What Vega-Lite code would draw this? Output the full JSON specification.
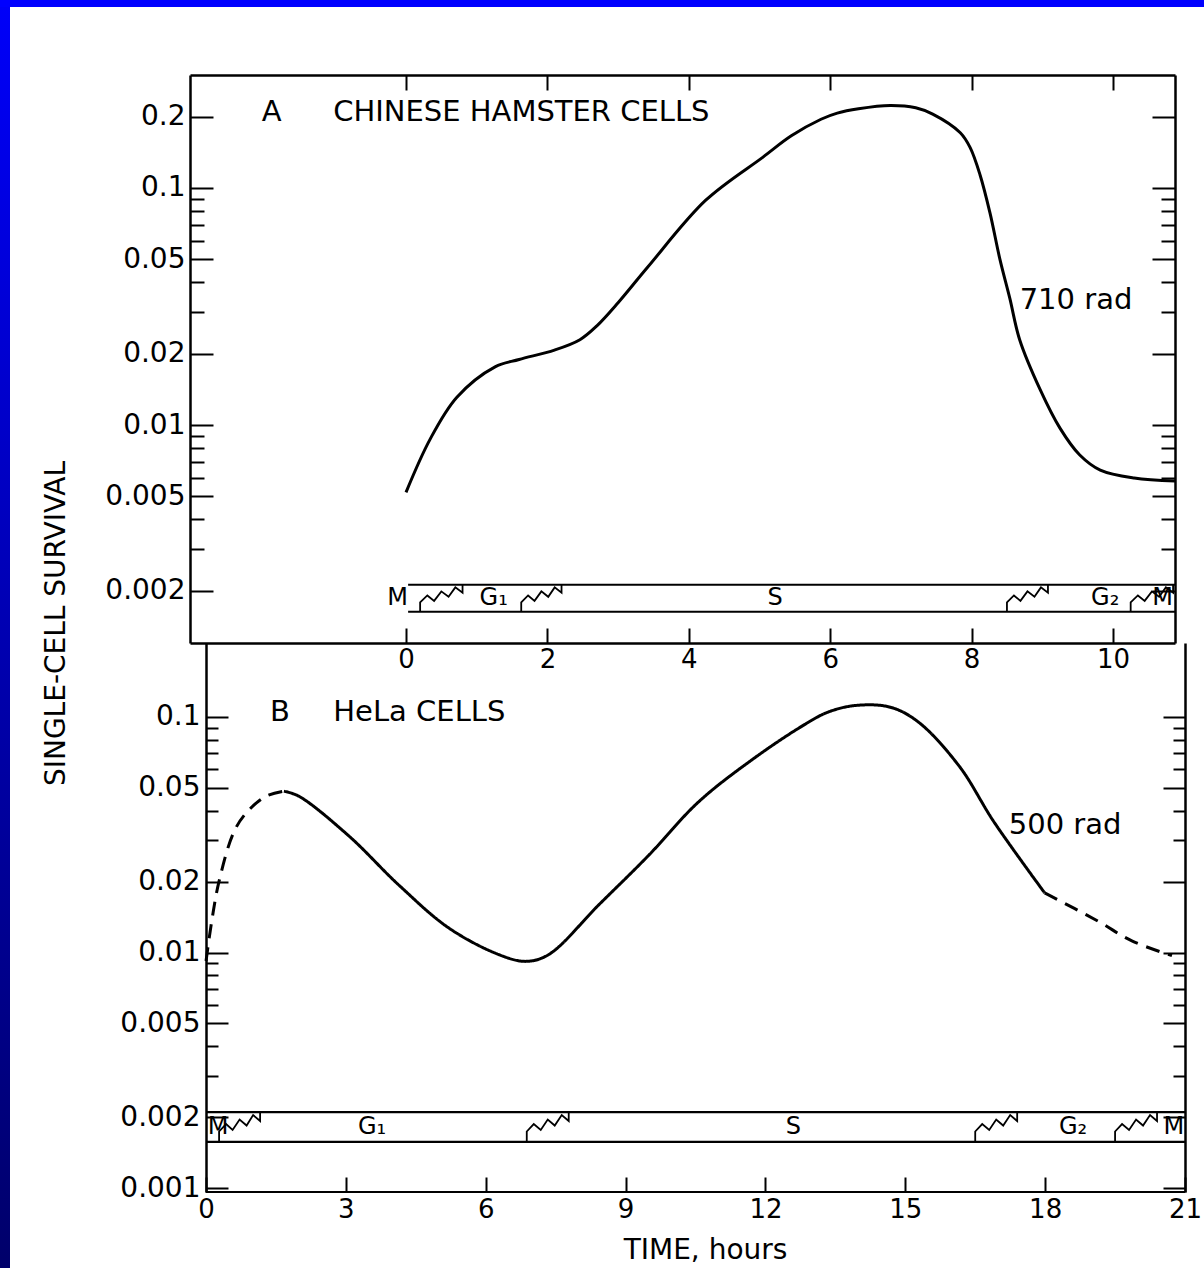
{
  "$schema": "https://vega.github.io/schema/vega-lite/v6.json",
  "background": "white",
  "padding": 0,
  "spacing": 0,
  "config": {
    "view": {"stroke": null},
    "axis": {
      "grid": false, "domainColor": "black", "domainWidth": 2.5, "tickColor": "black", "tickWidth": 2,
      "labelColor": "black", "labelFont": "DejaVu Sans", "labelFontSize": 26,
      "titleColor": "black", "titleFont": "DejaVu Sans", "titleFontWeight": "normal",
      "labelOverlap": false, "labelFlush": false
    }
  },
  "vconcat": [
    {"width": 1204, "height": 7, "data": {"values": []}, "mark": "point", "view": {"fill": "#0000ff", "stroke": null}},
    {
      "spacing": 32,
      "hconcat": [
        {"width": 10, "height": 1261, "data": {"values": []}, "mark": "point",
         "view": {"stroke": null, "fill": {"gradient": "linear", "x1": 0, "y1": 0, "x2": 0, "y2": 1, "stops": [{"offset": 0, "color": "#0000f8"}, {"offset": 1, "color": "#00006a"}]}}},
        {
          "spacing": 0,
          "bounds": "flush",
          "vconcat": [
            {"width": 1, "height": 68, "data": {"values": []}, "mark": "point"},
            {
              "width": 985, "height": 568,
              "resolve": {"axis": {"x": "independent", "y": "independent"}},
              "layer": [
                {
                  "data": {"values": [
                    {"t":0,"v":0.0052},{"t":0.34,"v":0.0087},{"t":0.72,"v":0.0131},{"t":1.26,"v":0.0176},{"t":1.6,"v":0.0189},{"t":2.1,"v":0.0207},{"t":2.46,"v":0.0229},{"t":2.7,"v":0.0262},{"t":3.0,"v":0.0328},{"t":3.42,"v":0.0464},{"t":4.24,"v":0.0888},{"t":5.05,"v":0.135},{"t":5.45,"v":0.166},{"t":5.87,"v":0.195},{"t":6.1,"v":0.207},{"t":6.4,"v":0.216},{"t":6.85,"v":0.223},{"t":7.21,"v":0.218},{"t":7.45,"v":0.205},{"t":7.84,"v":0.171},{"t":7.98,"v":0.148},{"t":8.12,"v":0.1135},{"t":8.26,"v":0.0785},{"t":8.4,"v":0.0501},{"t":8.54,"v":0.0343},{"t":8.68,"v":0.0229},{"t":8.97,"v":0.0141},{"t":9.25,"v":0.0097},{"t":9.53,"v":0.00747},{"t":9.82,"v":0.00645},{"t":10.3,"v":0.00597},{"t":10.877,"v":0.0058}
                  ]},
                  "mark": {"type": "line", "color": "black", "strokeWidth": 3, "interpolate": "catmull-rom"},
                  "encoding": {
                    "x": {"field": "t", "type": "quantitative", "scale": {"domain": [-3.055, 10.877], "nice": false, "zero": false},
                          "axis": {"orient": "bottom", "values": [0,2,4,6,8,10], "tickSize": -15, "labelPadding": 18, "labelFontSize": 26, "title": null}},
                    "y": {"field": "v", "type": "quantitative", "scale": {"type": "log", "domain": [0.001203, 0.2997], "nice": false},
                          "axis": {"orient": "left", "values": [0.2,0.1,0.05,0.02,0.01,0.005,0.002], "format": "~g", "tickSize": -23, "labelPadding": 28, "labelFontSize": 28,
                                   "title": "SINGLE-CELL SURVIVAL", "titleFontSize": 28, "titleAngle": -90, "titleAlign": "center", "titleBaseline": "bottom", "titleX": -120, "titleY": 548}}
                  }
                },
                {
                  "data": {"values": [{"t":0.03,"t2":10.877,"v":0.00212},{"t":0.03,"t2":10.877,"v":0.00163}]},
                  "mark": {"type": "rule", "color": "black", "strokeWidth": 2},
                  "encoding": {
                    "x": {"field": "t", "type": "quantitative", "scale": {"domain": [-3.055, 10.877], "nice": false, "zero": false},
                          "axis": {"orient": "top", "values": [0,2,4,6,8,10], "tickSize": -15, "labels": false, "title": null}},
                    "x2": {"field": "t2"},
                    "y": {"field": "v", "type": "quantitative", "scale": {"type": "log", "domain": [0.001203, 0.2997], "nice": false},
                          "axis": {"orient": "left", "values": [0.09,0.08,0.07,0.06,0.04,0.03,0.009,0.008,0.007,0.006,0.004,0.003], "tickSize": -14, "labels": false, "domain": false, "title": null}}
                  }
                },
                {
                  "data": {"values": [
                    {"z":"a1","o":0,"t":0.2,"v":0.00163},{"z":"a1","o":1,"t":0.2,"v":0.001787},{"z":"a1","o":2,"t":0.302,"v":0.001909},{"z":"a1","o":3,"t":0.398,"v":0.001811},{"z":"a1","o":4,"t":0.5,"v":0.001986},{"z":"a1","o":5,"t":0.602,"v":0.001884},{"z":"a1","o":6,"t":0.698,"v":0.002065},{"z":"a1","o":7,"t":0.8,"v":0.00196},{"z":"a1","o":8,"t":0.8,"v":0.00212},
                    {"z":"a2","o":0,"t":1.63,"v":0.00163},{"z":"a2","o":1,"t":1.63,"v":0.001787},{"z":"a2","o":2,"t":1.727,"v":0.001909},{"z":"a2","o":3,"t":1.818,"v":0.001811},{"z":"a2","o":4,"t":1.915,"v":0.001986},{"z":"a2","o":5,"t":2.012,"v":0.001884},{"z":"a2","o":6,"t":2.103,"v":0.002065},{"z":"a2","o":7,"t":2.2,"v":0.00196},{"z":"a2","o":8,"t":2.2,"v":0.00212},
                    {"z":"a3","o":0,"t":8.5,"v":0.00163},{"z":"a3","o":1,"t":8.5,"v":0.001787},{"z":"a3","o":2,"t":8.599,"v":0.001909},{"z":"a3","o":3,"t":8.691,"v":0.001811},{"z":"a3","o":4,"t":8.79,"v":0.001986},{"z":"a3","o":5,"t":8.889,"v":0.001884},{"z":"a3","o":6,"t":8.981,"v":0.002065},{"z":"a3","o":7,"t":9.08,"v":0.00196},{"z":"a3","o":8,"t":9.08,"v":0.00212},
                    {"z":"a4","o":0,"t":10.25,"v":0.00163},{"z":"a4","o":1,"t":10.25,"v":0.001787},{"z":"a4","o":2,"t":10.352,"v":0.001909},{"z":"a4","o":3,"t":10.448,"v":0.001811},{"z":"a4","o":4,"t":10.55,"v":0.001986},{"z":"a4","o":5,"t":10.652,"v":0.001884},{"z":"a4","o":6,"t":10.748,"v":0.002065},{"z":"a4","o":7,"t":10.85,"v":0.00196},{"z":"a4","o":8,"t":10.85,"v":0.00212}
                  ]},
                  "mark": {"type": "line", "color": "black", "strokeWidth": 1.8},
                  "encoding": {
                    "x": {"field": "t", "type": "quantitative", "scale": {"domain": [-3.055, 10.877], "nice": false, "zero": false}, "axis": null},
                    "y": {"field": "v", "type": "quantitative", "scale": {"type": "log", "domain": [0.001203, 0.2997], "nice": false},
                          "axis": {"orient": "right", "values": [0.2,0.1,0.05,0.02,0.01,0.005,0.002], "tickSize": -23, "labels": false, "title": null}},
                    "detail": {"field": "z", "type": "nominal"},
                    "order": {"field": "o", "type": "quantitative"}
                  }
                },
                {
                  "data": {"values": [
                    {"t":-2.04,"v":0.2094,"label":"A"},
                    {"t":-1.03,"v":0.2094,"label":"CHINESE HAMSTER CELLS"},
                    {"t":8.68,"v":0.0337,"label":"710 rad"}
                  ]},
                  "mark": {"type": "text", "align": "left", "baseline": "middle", "font": "DejaVu Sans", "fontSize": 29, "color": "black"},
                  "encoding": {
                    "x": {"field": "t", "type": "quantitative", "scale": {"domain": [-3.055, 10.877], "nice": false, "zero": false}, "axis": null},
                    "y": {"field": "v", "type": "quantitative", "scale": {"type": "log", "domain": [0.001203, 0.2997], "nice": false},
                          "axis": {"orient": "right", "values": [0.09,0.08,0.07,0.06,0.04,0.03,0.009,0.008,0.007,0.006,0.004,0.003], "tickSize": -14, "labels": false, "domain": false, "title": null}},
                    "text": {"field": "label"}
                  }
                },
                {
                  "data": {"values": [
                    {"t":-0.12,"v":0.001859,"label":"M"},
                    {"t":1.24,"v":0.001859,"label":"G₁"},
                    {"t":5.22,"v":0.001859,"label":"S"},
                    {"t":9.89,"v":0.001859,"label":"G₂"},
                    {"t":10.7,"v":0.001859,"label":"M"}
                  ]},
                  "mark": {"type": "text", "align": "center", "baseline": "middle", "font": "DejaVu Sans", "fontSize": 24, "color": "black"},
                  "encoding": {
                    "x": {"field": "t", "type": "quantitative", "scale": {"domain": [-3.055, 10.877], "nice": false, "zero": false}, "axis": null},
                    "y": {"field": "v", "type": "quantitative", "scale": {"type": "log", "domain": [0.001203, 0.2997], "nice": false}, "axis": null},
                    "text": {"field": "label"}
                  }
                }
              ]
            },
            {
              "width": 995, "height": 549,
              "resolve": {"axis": {"x": "independent", "y": "independent"}},
              "layer": [
                {
                  "data": {"values": [
                    {"seg":"d1","t":0,"v":0.0092},{"seg":"d1","t":0.12,"v":0.0135},{"seg":"d1","t":0.28,"v":0.0201},{"seg":"d1","t":0.6,"v":0.0326},{"seg":"d1","t":0.88,"v":0.0395},{"seg":"d1","t":1.29,"v":0.0461},{"seg":"d1","t":1.67,"v":0.0484},
                    {"seg":"s","t":1.67,"v":0.0484},{"seg":"s","t":1.99,"v":0.0461},{"seg":"s","t":3.06,"v":0.0313},{"seg":"s","t":4.14,"v":0.0193},{"seg":"s","t":5.21,"v":0.0127},{"seg":"s","t":6.28,"v":0.0098},{"seg":"s","t":6.86,"v":0.00917},{"seg":"s","t":7.35,"v":0.0098},{"seg":"s","t":8.42,"v":0.0159},{"seg":"s","t":9.49,"v":0.0258},{"seg":"s","t":10.56,"v":0.0435},{"seg":"s","t":11.72,"v":0.066},{"seg":"s","t":12.83,"v":0.0926},{"seg":"s","t":13.35,"v":0.105},{"seg":"s","t":13.95,"v":0.112},{"seg":"s","t":14.68,"v":0.11},{"seg":"s","t":15.28,"v":0.0952},{"seg":"s","t":16.16,"v":0.0617},{"seg":"s","t":16.9,"v":0.0359},{"seg":"s","t":17.99,"v":0.0179},
                    {"seg":"d2","t":17.99,"v":0.0179},{"seg":"d2","t":19.13,"v":0.0136},{"seg":"d2","t":19.86,"v":0.0112},{"seg":"d2","t":20.72,"v":0.0097}
                  ]},
                  "mark": {"type": "line", "color": "black", "strokeWidth": 3, "interpolate": "catmull-rom"},
                  "encoding": {
                    "x": {"field": "t", "type": "quantitative", "scale": {"domain": [-0.344, 21], "nice": false, "zero": false},
                          "axis": {"orient": "bottom", "values": [0,3,6,9,12,15,18,21], "tickSize": -15, "labelPadding": 19, "labelFontSize": 26, "domain": false,
                                   "title": "TIME, hours", "titleFontSize": 28, "titlePadding": 14, "titleX": 515}},
                    "y": {"field": "v", "type": "quantitative", "scale": {"type": "log", "domain": [0.000962, 0.2061], "nice": false},
                          "axis": {"orient": "left", "offset": -16, "values": [0.1,0.05,0.02,0.01,0.005,0.002,0.001], "format": "~g", "tickSize": -22, "labelPadding": 28, "labelFontSize": 28, "title": null}},
                    "strokeDash": {"field": "seg", "type": "nominal", "scale": {"domain": ["d1","s","d2"], "range": [[14,9],[1,0],[14,9]]}, "legend": null}
                  }
                },
                {
                  "data": {"values": [{"t":0,"t2":21,"v":0.0021},{"t":0,"t2":21,"v":0.00157},{"t":0,"t2":21,"v":0.000962}]},
                  "mark": {"type": "rule", "color": "black", "strokeWidth": 2.2},
                  "encoding": {
                    "x": {"field": "t", "type": "quantitative", "scale": {"domain": [-0.344, 21], "nice": false, "zero": false}, "axis": null},
                    "x2": {"field": "t2"},
                    "y": {"field": "v", "type": "quantitative", "scale": {"type": "log", "domain": [0.000962, 0.2061], "nice": false},
                          "axis": {"orient": "left", "offset": -16, "values": [0.09,0.08,0.07,0.06,0.04,0.03,0.009,0.008,0.007,0.006,0.004,0.003], "tickSize": -12, "labels": false, "domain": false, "title": null}}
                  }
                },
                {
                  "data": {"values": [
                    {"z":"b1","o":0,"t":0.28,"v":0.00157},{"z":"b1","o":1,"t":0.28,"v":0.001738},{"z":"b1","o":2,"t":0.43,"v":0.001869},{"z":"b1","o":3,"t":0.57,"v":0.001764},{"z":"b1","o":4,"t":0.72,"v":0.001952},{"z":"b1","o":5,"t":0.87,"v":0.001842},{"z":"b1","o":6,"t":1.01,"v":0.00204},{"z":"b1","o":7,"t":1.16,"v":0.001925},{"z":"b1","o":8,"t":1.16,"v":0.0021},
                    {"z":"b2","o":0,"t":6.88,"v":0.00157},{"z":"b2","o":1,"t":6.88,"v":0.001738},{"z":"b2","o":2,"t":7.03,"v":0.001869},{"z":"b2","o":3,"t":7.18,"v":0.001764},{"z":"b2","o":4,"t":7.33,"v":0.001952},{"z":"b2","o":5,"t":7.48,"v":0.001842},{"z":"b2","o":6,"t":7.63,"v":0.00204},{"z":"b2","o":7,"t":7.78,"v":0.001925},{"z":"b2","o":8,"t":7.78,"v":0.0021},
                    {"z":"b3","o":0,"t":16.5,"v":0.00157},{"z":"b3","o":1,"t":16.5,"v":0.001738},{"z":"b3","o":2,"t":16.65,"v":0.001869},{"z":"b3","o":3,"t":16.8,"v":0.001764},{"z":"b3","o":4,"t":16.95,"v":0.001952},{"z":"b3","o":5,"t":17.1,"v":0.001842},{"z":"b3","o":6,"t":17.25,"v":0.00204},{"z":"b3","o":7,"t":17.4,"v":0.001925},{"z":"b3","o":8,"t":17.4,"v":0.0021},
                    {"z":"b4","o":0,"t":19.5,"v":0.00157},{"z":"b4","o":1,"t":19.5,"v":0.001738},{"z":"b4","o":2,"t":19.65,"v":0.001869},{"z":"b4","o":3,"t":19.8,"v":0.001764},{"z":"b4","o":4,"t":19.95,"v":0.001952},{"z":"b4","o":5,"t":20.1,"v":0.001842},{"z":"b4","o":6,"t":20.25,"v":0.00204},{"z":"b4","o":7,"t":20.4,"v":0.001925},{"z":"b4","o":8,"t":20.4,"v":0.0021}
                  ]},
                  "mark": {"type": "line", "color": "black", "strokeWidth": 1.8},
                  "encoding": {
                    "x": {"field": "t", "type": "quantitative", "scale": {"domain": [-0.344, 21], "nice": false, "zero": false}, "axis": null},
                    "y": {"field": "v", "type": "quantitative", "scale": {"type": "log", "domain": [0.000962, 0.2061], "nice": false},
                          "axis": {"orient": "right", "values": [0.1,0.05,0.02,0.01,0.005,0.002,0.001], "tickSize": -22, "labels": false, "title": null}},
                    "detail": {"field": "z", "type": "nominal"},
                    "order": {"field": "o", "type": "quantitative"}
                  }
                },
                {
                  "data": {"values": [
                    {"t":1.37,"v":0.105,"label":"B"},
                    {"t":2.73,"v":0.105,"label":"HeLa CELLS"},
                    {"t":17.22,"v":0.0348,"label":"500 rad"}
                  ]},
                  "mark": {"type": "text", "align": "left", "baseline": "middle", "font": "DejaVu Sans", "fontSize": 29, "color": "black"},
                  "encoding": {
                    "x": {"field": "t", "type": "quantitative", "scale": {"domain": [-0.344, 21], "nice": false, "zero": false}, "axis": null},
                    "y": {"field": "v", "type": "quantitative", "scale": {"type": "log", "domain": [0.000962, 0.2061], "nice": false},
                          "axis": {"orient": "right", "values": [0.09,0.08,0.07,0.06,0.04,0.03,0.009,0.008,0.007,0.006,0.004,0.003], "tickSize": -12, "labels": false, "domain": false, "title": null}},
                    "text": {"field": "label"}
                  }
                },
                {
                  "data": {"values": [
                    {"t":0.26,"v":0.001816,"label":"M"},
                    {"t":3.56,"v":0.001816,"label":"G₁"},
                    {"t":12.6,"v":0.001816,"label":"S"},
                    {"t":18.6,"v":0.001816,"label":"G₂"},
                    {"t":20.76,"v":0.001816,"label":"M"}
                  ]},
                  "mark": {"type": "text", "align": "center", "baseline": "middle", "font": "DejaVu Sans", "fontSize": 24, "color": "black"},
                  "encoding": {
                    "x": {"field": "t", "type": "quantitative", "scale": {"domain": [-0.344, 21], "nice": false, "zero": false}, "axis": null},
                    "y": {"field": "v", "type": "quantitative", "scale": {"type": "log", "domain": [0.000962, 0.2061], "nice": false}, "axis": null},
                    "text": {"field": "label"}
                  }
                }
              ]
            }
          ]
        }
      ]
    }
  ]
}
